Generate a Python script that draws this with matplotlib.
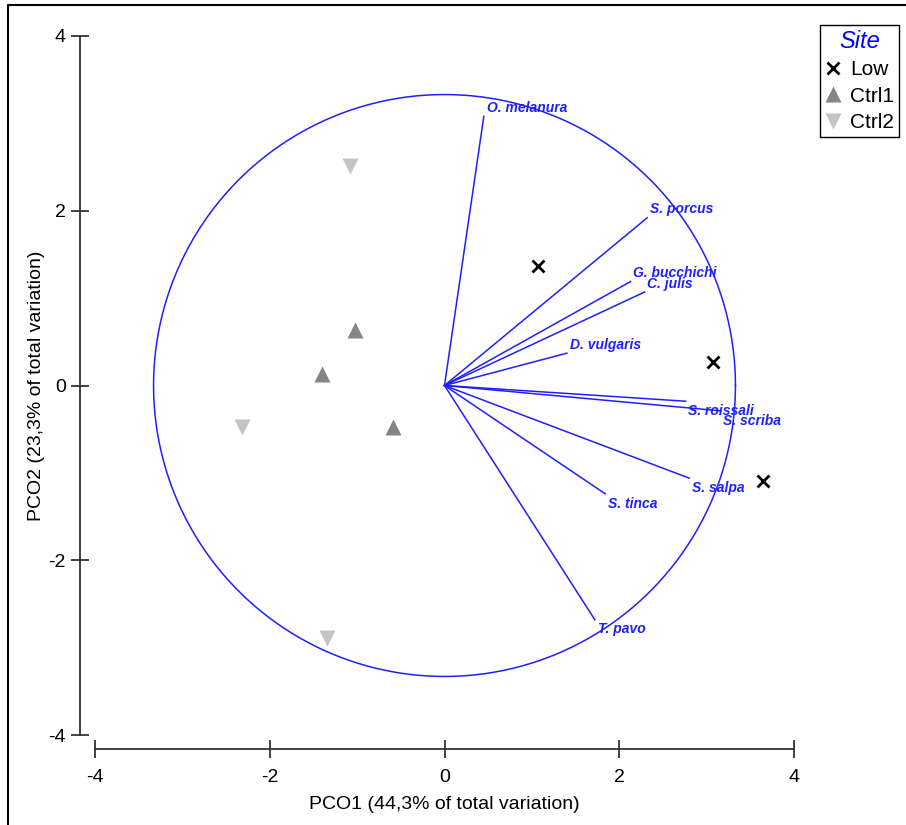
import numpy as np
import matplotlib
matplotlib.use("Agg")
import matplotlib.pyplot as plt
from matplotlib.lines import Line2D

plt.rcParams['font.family'] = ['Liberation Sans', 'DejaVu Sans']
plt.rcParams['axes.unicode_minus'] = False

# sample scores on the first two PCO axes
low_x = [1.07, 3.07, 3.65]
low_y = [1.37, 0.27, -1.09]
ctrl1_x = [-1.02, -1.40, -0.59]
ctrl1_y = [0.64, 0.13, -0.48]
ctrl2_x = [-1.08, -2.32, -1.34]
ctrl2_y = [2.51, -0.47, -2.89]

# species correlation vectors (scaled to the circle)
species = ['O. melanura', 'S. porcus', 'G. bucchichi', 'C. julis', 'D. vulgaris',
           'S. roissali', 'S. scriba', 'S. salpa', 'S. tinca', 'T. pavo']
vec_x = [0.45, 2.32, 2.13, 2.29, 1.40, 2.76, 3.16, 2.80, 1.84, 1.72]
vec_y = [3.08, 1.92, 1.19, 1.07, 0.37, -0.18, -0.29, -1.06, -1.24, -2.68]
circle_r = 3.33

ticks = [-4, -2, 0, 2, 4]

W, H = 906, 825
fig = plt.figure(figsize=(W / 100, H / 100), dpi=100)
ax = fig.add_axes([95 / W, (H - 735) / H, 699 / W, 699 / H])
ax.set_xlim(-4, 4)
ax.set_ylim(-4, 4)

blue = '#1f1fff'
t = np.linspace(0, 2 * np.pi, 400)
ax.plot(circle_r * np.cos(t), circle_r * np.sin(t), color=blue, lw=1.1, zorder=1)

for name, vx, vy in zip(species, vec_x, vec_y):
    ax.plot([0, vx], [0, vy], color=blue, lw=1.1, zorder=1)
    va = 'bottom' if vy > 0 else 'top'
    dy = 1 if vy > 0 else -2
    ax.annotate(name, (vx, vy), xytext=(2, dy), textcoords='offset points',
                ha='left', va=va, color=blue, fontsize=10,
                fontweight='bold', fontstyle='italic', zorder=3)

ax.plot(low_x, low_y, 'x', color='black', ms=9, mew=2, zorder=4)
ax.plot(ctrl1_x, ctrl1_y, '^', color='#858585', ms=12, mec='none', zorder=4)
ax.plot(ctrl2_x, ctrl2_y, 'v', color='#c4c4c4', ms=12, mec='none', zorder=4)

# detached axes in the PRIMER style
for side in ['top', 'right']:
    ax.spines[side].set_visible(False)
ax.spines['left'].set_position(('outward', 10.8))
ax.spines['bottom'].set_position(('outward', 10.1))
ax.spines['left'].set_bounds(-4, 4)
ax.spines['bottom'].set_bounds(-4, 4)
for side in ['left', 'bottom']:
    ax.spines[side].set_linewidth(1.3)
    ax.spines[side].set_color('#333333')
ax.set_xticks(ticks)
ax.set_yticks(ticks)
ax.tick_params(direction='inout', length=12.5, width=1.3, color='#333333',
               labelsize=14, pad=4)
ax.tick_params(axis='x', pad=8)

ax.set_xlabel('PCO1 (44,3% of total variation)', fontsize=14, labelpad=7)
ax.set_ylabel('PCO2 (23,3% of total variation)', fontsize=14, labelpad=2.5)

handles = [
    Line2D([], [], ls='none', marker='x', color='black', ms=9, mew=2),
    Line2D([], [], ls='none', marker='^', color='#858585', ms=12, mec='none'),
    Line2D([], [], ls='none', marker='v', color='#c4c4c4', ms=12, mec='none'),
]
leg = fig.legend(handles, ['Low', 'Ctrl1', 'Ctrl2'], title='Site',
                 loc='upper right', bbox_to_anchor=(899 / W, 1 - 25 / H),
                 fontsize=15, title_fontsize=17, fancybox=False,
                 edgecolor='black', framealpha=1, handlelength=0.8,
                 handletextpad=0.4, borderpad=0.25, labelspacing=0.35,
                 borderaxespad=0)
leg.get_frame().set_linewidth(1.0)
leg.get_title().set_color('blue')
leg.get_title().set_fontstyle('italic')

# outer frame (top and left edges)
fig.add_artist(Line2D([8 / W, 8 / W, 1], [0, 1 - 5 / H, 1 - 5 / H],
                      transform=fig.transFigure, color='black', lw=1.5))

fig.savefig('out.png', dpi=100)
